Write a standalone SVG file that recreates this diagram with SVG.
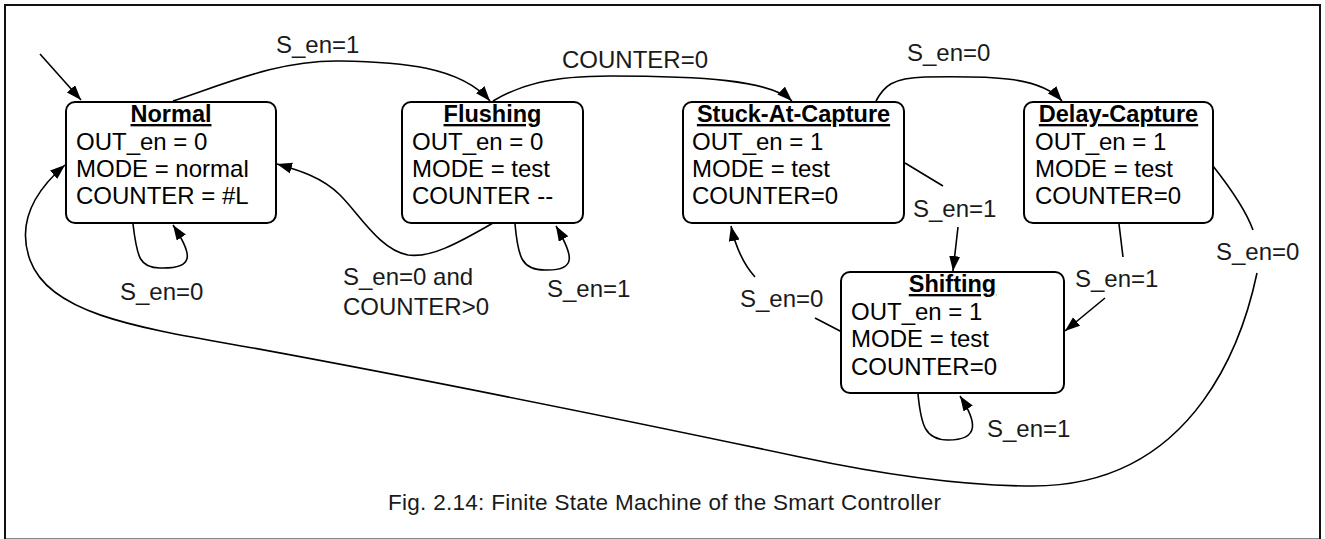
<svg xmlns="http://www.w3.org/2000/svg" width="1325" height="539" viewBox="0 0 1325 539">
  <defs>
    <marker id="arrow" markerUnits="userSpaceOnUse" markerWidth="16" markerHeight="12" refX="15" refY="5.5" orient="auto">
      <path d="M0,0 L15,5.5 L0,11 Z" fill="#000"/>
    </marker>
    <style>
      .frame { fill: #fff; stroke: #111; stroke-width: 2; }
      .state { fill: #fff; stroke: #000; stroke-width: 2; }
      .edge { fill: none; stroke: #000; stroke-width: 1.6; }
      .title { font-family: "Liberation Sans", Arial, sans-serif; font-size: 23.5px; font-weight: bold; text-anchor: middle; text-decoration: underline; fill: #000; }
      .body { font-family: "Liberation Sans", Arial, sans-serif; font-size: 24px; fill: #000; }
      .label { font-family: "Liberation Sans", Arial, sans-serif; font-size: 24px; fill: #1a1a1a; }
      .caption { font-family: "Liberation Sans", Arial, sans-serif; font-size: 22.5px; fill: #1a1a1a; }
    </style>
  </defs>

  <!-- figure frame -->
  <rect class="frame" x="5" y="5" width="1315" height="534.5"/>

  <!-- transitions -->
  <g id="connectors">
    <!-- initial transition -->
    <path class="edge" d="M40,54 L81,100" marker-end="url(#arrow)"/>
    <!-- Normal -> Flushing -->
    <path class="edge" d="M173,101 C230,82 280,60 340,61 C400,62 460,66 490,101" marker-end="url(#arrow)"/>
    <!-- Flushing -> Stuck-At-Capture -->
    <path class="edge" d="M493,101 C520,85 550,76 610,76 C700,76 770,80 792,101" marker-end="url(#arrow)"/>
    <!-- Stuck-At-Capture -> Delay-Capture -->
    <path class="edge" d="M876,101 C884,86 892,78 925,77 C990,76 1040,76 1062,101" marker-end="url(#arrow)"/>
    <!-- Stuck-At-Capture -> Shifting -->
    <path class="edge" d="M905,163 L943,186 M958,227 L953,271" marker-end="url(#arrow)"/>
    <!-- Shifting -> Stuck-At-Capture -->
    <path class="edge" d="M842,332 L815,318 M755,277 Q738,258 731,226" marker-end="url(#arrow)"/>
    <!-- Delay-Capture -> Shifting -->
    <path class="edge" d="M1119,224 L1123,257 M1105,298 L1065,331" marker-end="url(#arrow)"/>
    <!-- Delay-Capture -> Normal -->
    <path class="edge" d="M1213,166 C1228,185 1245,208 1253,230 M1257,273 C1245,330 1200,486 1033,486 C960,486 880,474 800,457 C620,419 400,375 253,348 C140,328 50,315 30,260 C18,227 30,195 65,165" marker-end="url(#arrow)"/>
    <!-- Flushing -> Normal -->
    <path class="edge" d="M493,223 C455,245 430,258 408,255 C380,250 360,215 340,195 C322,177 298,170 277,164" marker-end="url(#arrow)"/>
    <!-- self loops -->
    <path class="edge" d="M133,224 C137,258 140,268 160,268 C195,269 193,255 173,225" marker-end="url(#arrow)"/>
    <path class="edge" d="M515,224 C518,258 522,270 545,270 C578,271 573,255 556,226" marker-end="url(#arrow)"/>
    <path class="edge" d="M918,394 C921,425 925,440 948,440 C980,440 977,422 960,396" marker-end="url(#arrow)"/>

    <!-- transition labels -->
    <text class="label" x="276" y="53">S_en=1</text>
    <text class="label" x="562" y="68">COUNTER=0</text>
    <text class="label" x="907" y="61">S_en=0</text>
    <text class="label" x="913" y="217">S_en=1</text>
    <text class="label" x="740" y="307">S_en=0</text>
    <text class="label" x="1075" y="287">S_en=1</text>
    <text class="label" x="1216" y="260">S_en=0</text>
    <text class="label" x="343" y="285">S_en=0 and</text>
    <text class="label" x="343" y="315">COUNTER&gt;0</text>
    <text class="label" x="547" y="297">S_en=1</text>
    <text class="label" x="120" y="300">S_en=0</text>
    <text class="label" x="987" y="437">S_en=1</text>
  </g>

  <!-- states -->
  <g id="normal">
    <rect class="state" x="66" y="102" width="210" height="121" rx="9"/>
    <text class="title" x="171" y="122">Normal</text>
    <text class="body" x="76" y="150">OUT_en = 0</text>
    <text class="body" x="76" y="177">MODE = normal</text>
    <text class="body" x="76" y="204">COUNTER = #L</text>
  </g>

  <g id="flushing">
    <rect class="state" x="402" y="102" width="181" height="121" rx="9"/>
    <text class="title" x="492.5" y="122">Flushing</text>
    <text class="body" x="412" y="150">OUT_en = 0</text>
    <text class="body" x="412" y="177">MODE = test</text>
    <text class="body" x="412" y="204">COUNTER --</text>
  </g>

  <g id="stuck-at-capture">
    <rect class="state" x="683" y="102" width="221" height="121" rx="9"/>
    <text class="title" x="793.5" y="122">Stuck-At-Capture</text>
    <text class="body" x="692" y="150">OUT_en = 1</text>
    <text class="body" x="692" y="177">MODE = test</text>
    <text class="body" x="692" y="204">COUNTER=0</text>
  </g>

  <g id="delay-capture">
    <rect class="state" x="1024" y="102" width="189" height="121" rx="9"/>
    <text class="title" x="1118.5" y="122">Delay-Capture</text>
    <text class="body" x="1035" y="150">OUT_en = 1</text>
    <text class="body" x="1035" y="177">MODE = test</text>
    <text class="body" x="1035" y="204">COUNTER=0</text>
  </g>

  <g id="shifting">
    <rect class="state" x="841" y="272" width="223" height="121" rx="9"/>
    <text class="title" x="952.5" y="292">Shifting</text>
    <text class="body" x="851" y="320">OUT_en = 1</text>
    <text class="body" x="851" y="347">MODE = test</text>
    <text class="body" x="851" y="375">COUNTER=0</text>
  </g>

  <!-- caption -->
  <text class="caption" x="388" y="510" textLength="553" lengthAdjust="spacing">Fig. 2.14: Finite State Machine of the Smart Controller</text>
</svg>
